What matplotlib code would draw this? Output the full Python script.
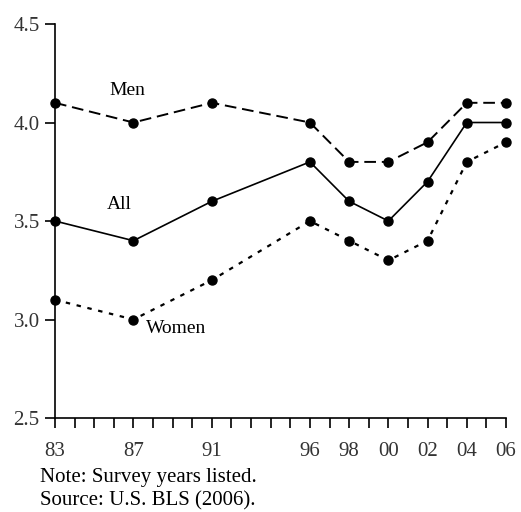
import matplotlib.pyplot as plt

years = [1983, 1987, 1991, 1996, 1998, 2000, 2002, 2004, 2006]
men = [4.1, 4.0, 4.1, 4.0, 3.8, 3.8, 3.9, 4.1, 4.1]
all_workers = [3.5, 3.4, 3.6, 3.8, 3.6, 3.5, 3.7, 4.0, 4.0]
women = [3.1, 3.0, 3.2, 3.5, 3.4, 3.3, 3.4, 3.8, 3.9]
tick_labels = ['83', '87', '91', '96', '98', '00', '02', '04', '06']

plt.rcParams['font.family'] = 'Liberation Serif'

fig = plt.figure(figsize=(5.21, 5.12), dpi=100)
ax = fig.add_axes([0.1056, 0.1836, 0.8656, 0.7695])

ax.plot(years, men, color='black', linestyle=(0, (6, 3)), linewidth=1.4,
        marker='o', markersize=6.5)
ax.plot(years, all_workers, color='black', linestyle='-', linewidth=1.2,
        marker='o', markersize=6.5)
ax.plot(years, women, color='black', linestyle=(0, (2, 3)), linewidth=1.6,
        marker='o', markersize=6.5)

ax.text(1986.7, 4.165, 'Men', fontsize=14, ha='center', va='center')
ax.text(1986.3, 3.586, 'All', fontsize=14, ha='center', va='center')
ax.text(1989.2, 2.952, 'Women', fontsize=14, ha='center', va='center')

ax.set_xlim(1983, 2006)
ax.set_ylim(2.5, 4.5)
ax.set_xticks(range(1983, 2007), minor=True)
ax.set_xticks(years)
ax.set_xticklabels(tick_labels)
ax.set_yticks([2.5, 3.0, 3.5, 4.0, 4.5])
ax.set_yticklabels(['2.5', '3.0', '3.5', '4.0', '4.5'])

ax.spines['top'].set_visible(False)
ax.spines['right'].set_visible(False)
ax.spines['left'].set_linewidth(1.2)
ax.spines['bottom'].set_linewidth(1.2)
ax.tick_params(axis='x', which='both', direction='out', length=7, width=1.2,
               labelsize=15, pad=10)
ax.tick_params(axis='y', direction='out', length=7, width=1.2,
               labelsize=15, pad=4)
for lab in ax.get_xticklabels() + ax.get_yticklabels():
    lab.set_color('#333333')
for line in ax.get_lines():
    line.set_clip_on(False)

fig.text(0.077, 0.068, 'Note: Survey years listed.', fontsize=15, va='center')
fig.text(0.077, 0.022, 'Source: U.S. BLS (2006).', fontsize=15, va='center')

fig.savefig('out.png', dpi=100)
